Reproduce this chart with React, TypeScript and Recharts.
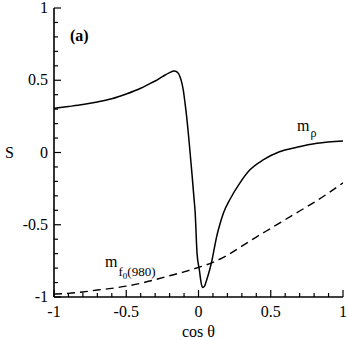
import React from "react";
import { LineChart, Line, XAxis, YAxis } from "recharts";

// m_rho curve (solid)
const rhoX = [
  -1, -0.9, -0.8, -0.7, -0.6, -0.5, -0.4, -0.35, -0.3, -0.25, -0.2, -0.17,
  -0.145, -0.128, -0.115, -0.105, -0.093, -0.082, -0.064, -0.045, -0.03,
  -0.024, -0.01, 0.006, 0.018, 0.029, 0.042, 0.057, 0.075, 0.091, 0.11, 0.126,
  0.15, 0.172, 0.22, 0.287, 0.356, 0.45, 0.56, 0.68, 0.82, 1.0,
];
const rhoS = [
  0.305, 0.318, 0.332, 0.35, 0.372, 0.405, 0.445, 0.47, 0.495, 0.525, 0.553,
  0.564, 0.555, 0.525, 0.48, 0.43, 0.34, 0.248, 0.064, -0.15, -0.33, -0.4,
  -0.7, -0.813, -0.9, -0.935, -0.925, -0.88, -0.82, -0.756, -0.66, -0.58,
  -0.49, -0.42, -0.32, -0.21, -0.12, -0.05, 0.005, 0.036, 0.064, 0.08,
];

// m_f0(980) curve (dashed)
const f0X = [-1, -0.9, -0.8, -0.7, -0.6, -0.5, -0.4, -0.3, -0.2, -0.1, 0, 0.1, 0.2, 0.3, 0.4, 0.5, 0.6, 0.7, 0.8, 0.9, 1.0];
const f0S = [
  -0.98, -0.975, -0.965, -0.952, -0.94, -0.925, -0.905, -0.88, -0.853, -0.826,
  -0.795, -0.76, -0.71, -0.648, -0.585, -0.525, -0.465, -0.405, -0.345, -0.28, -0.21,
];

const minorTicks = [-1, -0.9, -0.8, -0.7, -0.6, -0.5, -0.4, -0.3, -0.2, -0.1, 0, 0.1, 0.2, 0.3, 0.4, 0.5, 0.6, 0.7, 0.8, 0.9, 1];

const rhoData = rhoX.map((x, i) => ({ x, y: rhoS[i] }));
const f0Data = f0X.map((x, i) => ({ x, y: f0S[i] }));

const FONT = "Liberation Serif";
const isMajor = (v: number) => Math.abs(v * 2 - Math.round(v * 2)) < 1e-6;
const fmt = (v: number) => String(Math.round(v * 10) / 10);

function BottomTick(props: any) {
  const { x, y, payload } = props;
  const major = isMajor(payload.value);
  return (
    <g>
      <line x1={x} y1={y} x2={x} y2={y - (major ? 7 : 4)} stroke="#000" strokeWidth={1.2} />
      {major && (
        <text x={x} y={y + 20} textAnchor="middle" fontSize={16} fontFamily={FONT} fill="#000">
          {fmt(payload.value)}
        </text>
      )}
    </g>
  );
}

function TopTick(props: any) {
  const { x, y, payload } = props;
  const major = isMajor(payload.value);
  return <line x1={x} y1={y} x2={x} y2={y + (major ? 7 : 4)} stroke="#000" strokeWidth={1.2} />;
}

function LeftTick(props: any) {
  const { x, y, payload } = props;
  const major = isMajor(payload.value);
  return (
    <g>
      <line x1={x} y1={y} x2={x + (major ? 7 : 4)} y2={y} stroke="#000" strokeWidth={1.2} />
      {major && (
        <text x={x - 6} y={y + 5} textAnchor="end" fontSize={16} fontFamily={FONT} fill="#000">
          {fmt(payload.value)}
        </text>
      )}
    </g>
  );
}

function RightTick(props: any) {
  const { x, y, payload } = props;
  const major = isMajor(payload.value);
  return <line x1={x} y1={y} x2={x - (major ? 7 : 4)} y2={y} stroke="#000" strokeWidth={1.2} />;
}

const axisLine = { stroke: "#000", strokeWidth: 1.6 };

export default function App() {
  return (
    <div style={{ position: "absolute", left: 0, top: 0, width: 349, height: 340 }}>
      <LineChart width={349} height={340} margin={{ top: 8, right: 6, left: 0, bottom: 0 }}>
        <XAxis
          xAxisId="b"
          type="number"
          dataKey="x"
          domain={[-1, 1]}
          allowDataOverflow
          ticks={minorTicks}
          interval={0}
          tickLine={false}
          tickSize={0}
          tickMargin={0}
          tick={<BottomTick />}
          axisLine={axisLine}
          height={43}
          label={{ value: "cos θ", position: "insideBottom", offset: 3, fontSize: 16, fontFamily: FONT, fill: "#000" }}
        />
        <XAxis
          xAxisId="t"
          orientation="top"
          type="number"
          dataKey="x"
          domain={[-1, 1]}
          allowDataOverflow
          ticks={minorTicks}
          interval={0}
          tickLine={false}
          tickSize={0}
          tickMargin={0}
          tick={<TopTick />}
          axisLine={axisLine}
          height={0}
        />
        <YAxis
          yAxisId="l"
          type="number"
          domain={[-1, 1]}
          allowDataOverflow
          ticks={minorTicks}
          interval={0}
          tickLine={false}
          tickSize={0}
          tickMargin={0}
          tick={<LeftTick />}
          axisLine={axisLine}
          width={54}
          label={{ value: "S", position: "insideLeft", offset: 5, fontSize: 16, fontFamily: FONT, fill: "#000" }}
        />
        <YAxis
          yAxisId="r"
          orientation="right"
          type="number"
          domain={[-1, 1]}
          allowDataOverflow
          ticks={minorTicks}
          interval={0}
          tickLine={false}
          tickSize={0}
          tickMargin={0}
          tick={<RightTick />}
          axisLine={axisLine}
          width={0}
        />
        <Line
          xAxisId="b"
          yAxisId="l"
          data={rhoData}
          dataKey="y"
          type="monotone"
          stroke="#000"
          strokeWidth={1.5}
          dot={false}
          isAnimationActive={false}
        />
        <Line
          xAxisId="b"
          yAxisId="l"
          data={f0Data}
          dataKey="y"
          type="monotone"
          stroke="#000"
          strokeWidth={1.4}
          strokeDasharray="8 5"
          dot={false}
          isAnimationActive={false}
        />
      </LineChart>
      <svg
        width={349}
        height={340}
        style={{ position: "absolute", left: 0, top: 0, pointerEvents: "none" }}
      >
        <text x={70} y={41} fontSize={16} fontWeight="bold" fontFamily={FONT} fill="#000">(a)</text>
        <text x={297} y={131} fontSize={16} fontFamily={FONT} fill="#000">
          m
          <tspan fontSize={12} dx={1} dy={6}>ρ</tspan>
        </text>
        <text x={105} y={267} fontSize={16} fontFamily={FONT} fill="#000">
          m
          <tspan fontSize={13} dx={1} dy={9}>f</tspan>
          <tspan fontSize={9} dy={3}>0</tspan>
          <tspan fontSize={13} dy={-3}>(980)</tspan>
        </text>
      </svg>
    </div>
  );
}
